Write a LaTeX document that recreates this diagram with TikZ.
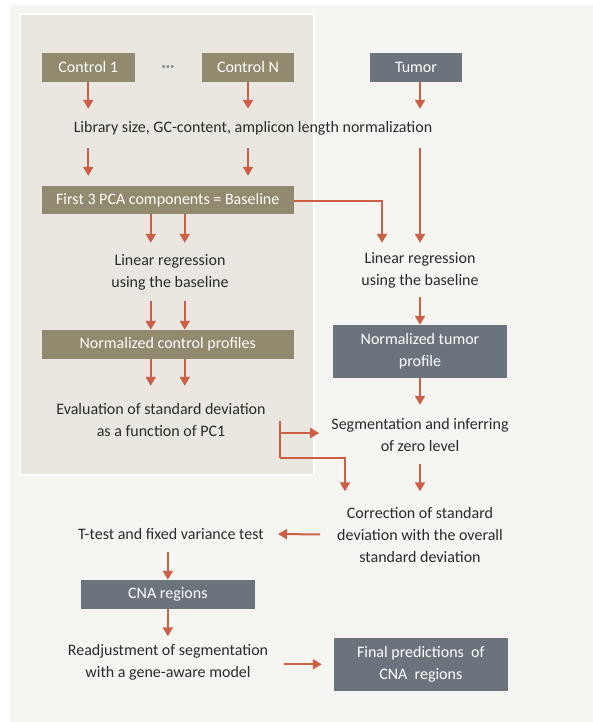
\documentclass[tikz,border=0pt]{standalone}
\usepackage{fontspec}
\setmainfont{Carlito}
\usetikzlibrary{arrows.meta,calc}
\definecolor{outerbg}{HTML}{F5F6F2}
\definecolor{innerbg}{HTML}{E9E7E0}
\definecolor{olive}{HTML}{918A6E}
\definecolor{slate}{HTML}{6B737C}
\definecolor{arrowc}{HTML}{CD5F47}
\definecolor{txt}{HTML}{2A2A2A}
\definecolor{dotc}{HTML}{8C8C8C}
\tikzset{
  base/.style={font=\fontsize{16}{22}\selectfont, inner sep=2pt, align=center},
  olivebox/.style={base, fill=olive, text=white, minimum height=29pt},
  slatebox/.style={base, fill=slate, text=white},
  label/.style={base, text=txt},
  arr/.style={draw=arrowc, line width=2pt, -{Triangle[width=10pt,length=9pt]}},
  conn/.style={draw=arrowc, line width=2pt},
}
\begin{document}
\begin{tikzpicture}[x=1pt,y=-1pt]
\useasboundingbox (0,0) rectangle (593,722);
\fill[outerbg] (10,5) rectangle (593,722);
\filldraw[fill=innerbg, draw=white, line width=2pt] (20,14) rectangle (314,475);

% top boxes
\node[olivebox, minimum width=93.5pt] (c1) at (88.25,67.5) {Control 1};
\node[base, text=dotc] (dots) at (168,69) {\textbf{\textperiodcentered\textperiodcentered\textperiodcentered}};
\node[olivebox, minimum width=92pt] (cN) at (248,67.5) {Control N};
\node[slatebox, minimum width=92pt, minimum height=29pt] (tumor) at (416,67.5) {Tumor};

\node[label, minimum height=39pt] (lib) at (253,128.5) {Library size, GC-content, amplicon length normalization};

\node[olivebox, minimum width=252.5pt, minimum height=28pt] (pca) at (167.75,200) {First 3 PCA components = Baseline};

\node[label, minimum height=58pt] (lrL) at (170,272) {Linear regression\\using the baseline};
\node[label, minimum height=54pt] (lrR) at (420,270) {Linear regression\\using the baseline};

\node[olivebox, minimum width=252.5pt, minimum height=28.7pt] (ncp) at (167.75,344.3) {Normalized control profiles};
\node[slatebox, minimum width=173.7pt, minimum height=52.7pt] (ntp) at (420,351.3) {Normalized tumor\\profile};

\node[label, minimum height=68pt] (eval) at (161,420) {Evaluation of standard deviation\\as a function of PC1};
\node[label, minimum height=59pt] (seg) at (420,434.5) {Segmentation and inferring\\of zero level};

\node[label, minimum height=86pt] (corr) at (420,534.5) {Correction of standard\\deviation with the overall\\standard deviation};
\node[label, minimum height=36pt] (ttest) at (171,534) {T-test and fixed variance test};

\node[slatebox, minimum width=173.7pt, minimum height=28.7pt] (cna) at (167.85,594.3) {CNA regions};
\node[label, minimum height=52pt] (readj) at (168,662.5) {Readjustment of segmentation\\with a gene-aware model};
\node[slatebox, minimum width=173.7pt, minimum height=52.7pt] (final) at (420.8,664.3) {Final predictions~ of\\CNA~ regions};

% arrows top
\draw[arr] (c1.south) -- (c1.south |- lib.north);
\draw[arr] (cN.south) -- (cN.south |- lib.north);
\draw[arr] (tumor.south -| lrR.north) -- (lrR.north |- lib.north);
\draw[arr, shorten >=10pt] (c1.south |- lib.south) -- (c1.south |- pca.north);
\draw[arr, shorten >=10pt] (cN.south |- lib.south) -- (cN.south |- pca.north);
\draw[arr] (lrR.north |- lib.south) -- (lrR.north);
\draw[arr] (pca.east |- 0,201) -| ([xshift=-38pt]lrR.north);

% left column
\draw[arr] ([xshift=-17pt]pca.south) -- ([xshift=-17pt]pca.south |- lrL.north);
\draw[arr] ([xshift=17pt]pca.south) -- ([xshift=17pt]pca.south |- lrL.north);
\draw[arr] ([xshift=-17pt]pca.south |- lrL.south) -- ([xshift=-17pt]ncp.north);
\draw[arr] ([xshift=17pt]pca.south |- lrL.south) -- ([xshift=17pt]ncp.north);
\draw[arr] ([xshift=-17pt]ncp.south) -- ([xshift=-17pt]ncp.south |- eval.north);
\draw[arr] ([xshift=17pt]ncp.south) -- ([xshift=17pt]ncp.south |- eval.north);

% right column
\draw[arr] (lrR.south) -- (ntp.north);
\draw[arr] (ntp.south) -- (seg.north);
\draw[arr] (seg.south) -- (corr.north);

% junction from evaluation (canvas yshift is upward)
\coordinate (j) at ([xshift=12pt, yshift=-1pt]eval.east);
\coordinate (k) at ([yshift=-37pt]j);
\draw[conn] (j) -- (k);
\draw[arr] ([yshift=1.5pt]j |- seg.west) -- ([xshift=-10pt, yshift=1.5pt]seg.west);
\draw[arr] (k) -| ([xshift=-75pt]corr.north);

% bottom
\draw[arr, shorten <=15pt, shorten >=12pt] (corr.west) -- (ttest.east);
\draw[arr] (ttest.south -| cna.north) -- (cna.north);
\draw[arr] (cna.south) -- (cna.south |- readj.north);
\draw[arr, shorten <=14pt, shorten >=12pt] (readj.east |- final.west) -- (final.west);
\end{tikzpicture}
\end{document}
